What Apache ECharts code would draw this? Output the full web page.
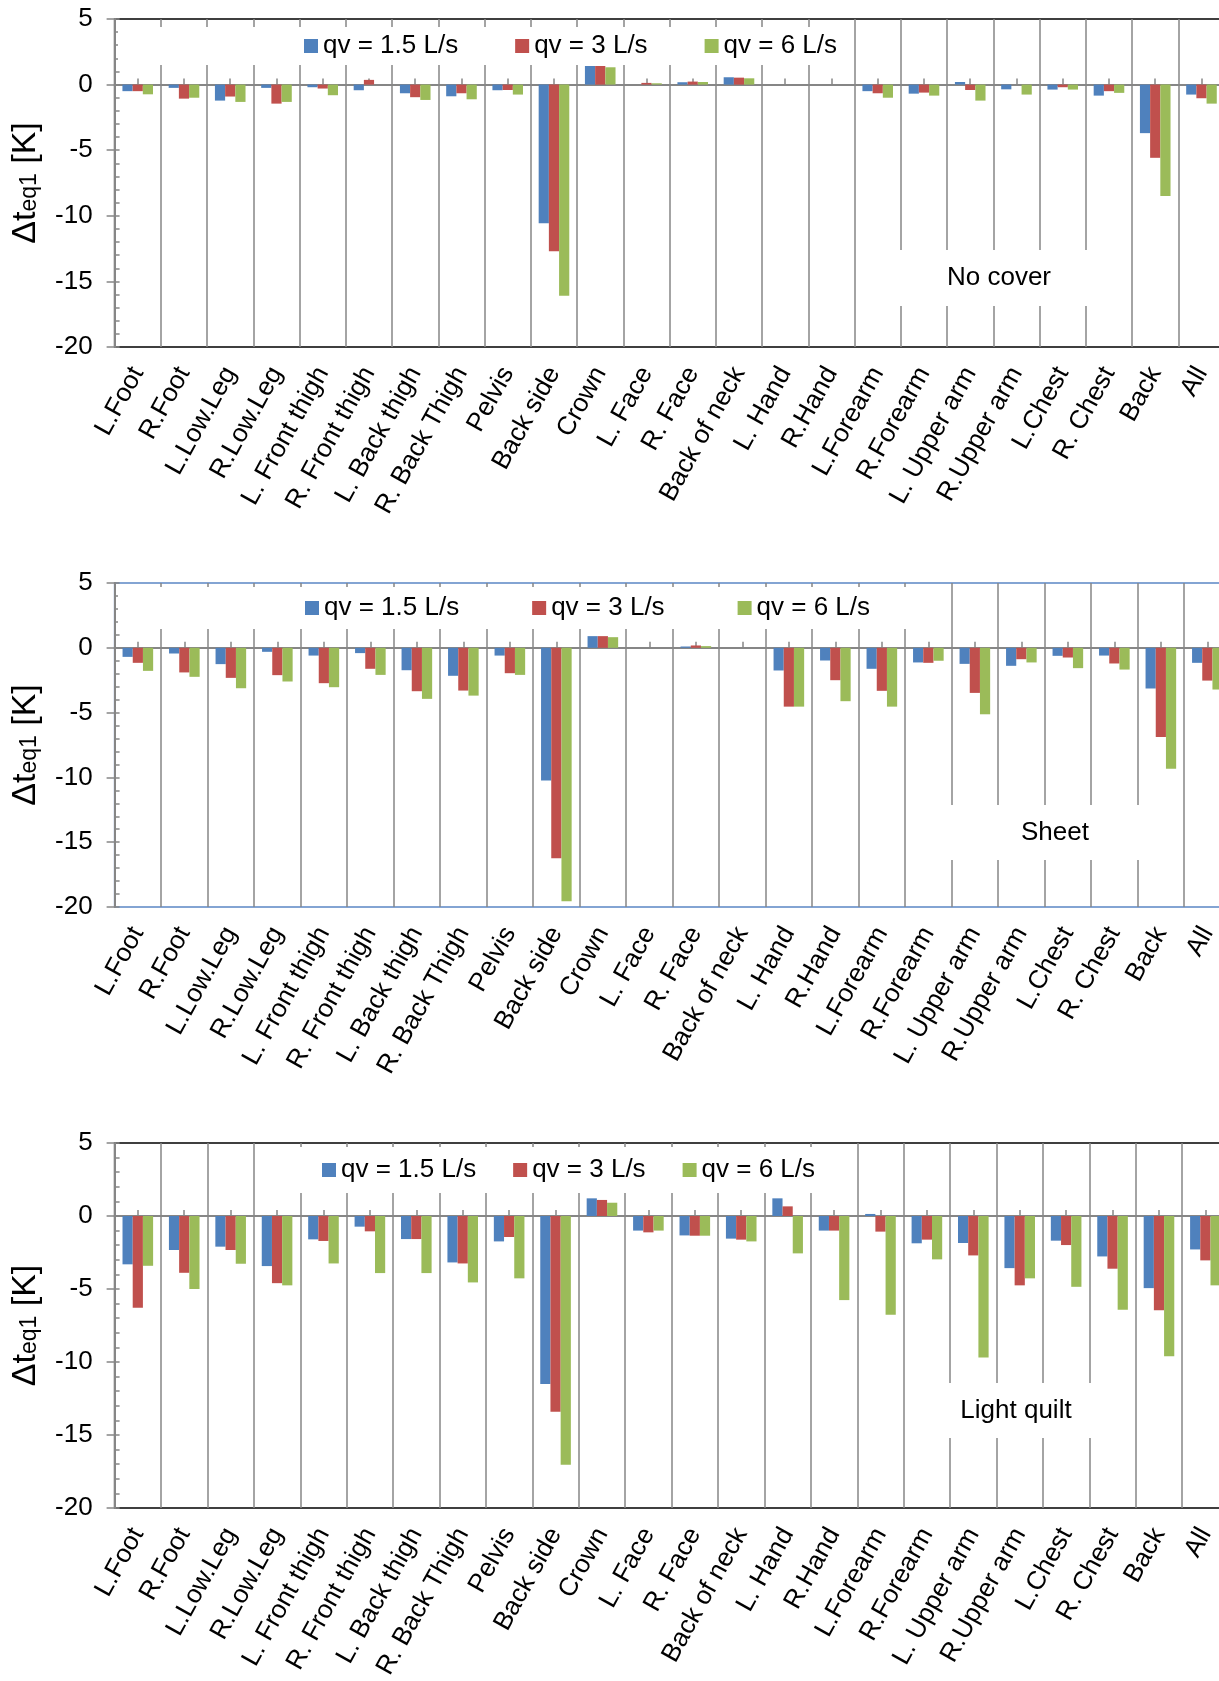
<!DOCTYPE html>
<html>
<head>
<meta charset="utf-8">
<title>Delta teq1</title>
<style>
body{margin:0;background:#fff;}
#main{width:1219px;height:1681px;}
</style>
</head>
<body>
<div id="main"></div>
<script src="https://cdn.jsdelivr.net/npm/echarts@6/dist/echarts.min.js"></script>
<script type="text/javascript">
// body segments
var cats = ['L.Foot','R.Foot','L.Low.Leg','R.Low.Leg','L. Front thigh','R. Front thigh','L. Back thigh','R. Back Thigh','Pelvis','Back side','Crown','L. Face','R. Face','Back of neck','L. Hand','R.Hand','L.Forearm','R.Forearm','L. Upper arm','R.Upper arm','L.Chest','R. Chest','Back','All'];
var seriesNames = ['qv = 1.5 L/s', 'qv = 3 L/s', 'qv = 6 L/s'];
var yTicks = [-20, -15, -10, -5, 0, 5];

// no cover
var noCover15 = [-0.5,-0.25,-1.22,-0.25,-0.2,-0.43,-0.66,-0.89,-0.43,-10.56,1.42,0,0.18,0.56,0,0,-0.5,-0.69,0.2,-0.36,-0.38,-0.84,-3.7,-0.76];
var noCover3  = [-0.5,-1.07,-0.91,-1.45,-0.3,0.36,-0.96,-0.66,-0.41,-12.7,1.42,0.13,0.23,0.53,0,0,-0.66,-0.61,-0.41,0,-0.2,-0.5,-5.58,-1.04];
var noCover6  = [-0.74,-1.0,-1.32,-1.32,-0.81,0,-1.17,-1.12,-0.76,-16.1,1.32,0.1,0.2,0.48,0,0,-1.0,-0.84,-1.22,-0.76,-0.38,-0.63,-8.5,-1.45];

// sheet
var sheet15 = [-0.7,-0.44,-1.26,-0.31,-0.6,-0.41,-1.73,-2.16,-0.6,-10.23,0.9,0,0.1,0,-1.75,-0.98,-1.62,-1.13,-1.24,-1.39,-0.62,-0.6,-3.14,-1.16];
var sheet3  = [-1.16,-1.9,-2.32,-2.11,-2.73,-1.62,-3.35,-3.3,-1.96,-16.24,0.9,0,0.18,0,-4.54,-2.5,-3.32,-1.16,-3.48,-0.88,-0.75,-1.21,-6.88,-2.53];
var sheet6  = [-1.78,-2.24,-3.12,-2.6,-3.04,-2.09,-3.94,-3.69,-2.09,-19.56,0.82,0,0.13,0,-4.54,-4.12,-4.54,-1.0,-5.13,-1.13,-1.57,-1.68,-9.33,-3.22];

// light quilt
var quilt15 = [-3.31,-2.33,-2.1,-3.43,-1.6,-0.73,-1.58,-3.18,-1.74,-11.5,1.21,-1.0,-1.33,-1.55,1.21,-1.0,0.14,-1.87,-1.85,-3.57,-1.69,-2.77,-4.94,-2.29];
var quilt3  = [-6.29,-3.89,-2.33,-4.6,-1.71,-1.05,-1.58,-3.25,-1.44,-13.4,1.1,-1.12,-1.35,-1.62,0.66,-1.0,-1.07,-1.62,-2.7,-4.75,-1.99,-3.61,-6.45,-3.04];
var quilt6  = [-3.41,-5.0,-3.27,-4.75,-3.25,-3.91,-3.91,-4.55,-4.27,-17.03,0.91,-1.0,-1.35,-1.74,-2.56,-5.76,-6.77,-2.97,-9.69,-4.27,-4.85,-6.42,-9.6,-4.75];

var panelLabels = ['No cover', 'Sheet', 'Light quilt'];
var panelData = [[noCover15, noCover3, noCover6], [sheet15, sheet3, sheet6], [quilt15, quilt3, quilt6]];

var colors = ['#4F81BD', '#C0504D', '#9BBB59'];
var font = "'Liberation Sans', Arial, sans-serif";
var grey = '#868686';

// layout of the three panels
var gridTop = [19, 583, 1143];
var gridH = [328, 324, 365];
var gridW = [1110, 1116, 1114];
var borderColor = ['#000', '#5B86C5', '#000'];
var legendBox = [
    {left: 118, top: 27, padding: [6, 12, 6, 186], gap: 57},
    {left: 118, top: 587, padding: [8, 38, 8, 187], gap: 73},
    {left: 280, top: 1147, padding: [10, 14, 10, 42], gap: 37}
];
var noteBox = [
    {x: 894, y: 250, w: 210, h: 56},
    {x: 945, y: 805, w: 220, h: 55},
    {x: 911, y: 1383, w: 210, h: 55}
];

var myChart = echarts.init(document.getElementById('main'));

var grids = [], xAxes = [], yAxes = [], legends = [], series = [], graphics = [];

for (var i = 0; i < 3; i++) {
    grids.push({
        left: 114.6, top: gridTop[i], width: gridW[i], height: gridH[i],
        containLabel: false, outerBoundsMode: 'none',
        show: true, borderColor: borderColor[i], borderWidth: 1.5, backgroundColor: 'transparent'
    });
    // bottom axis: labels + category gridlines
    xAxes.push({
        gridIndex: i, type: 'category', data: cats, position: 'bottom',
        axisLine: {show: false, onZero: false},
        axisTick: {show: false},
        splitLine: {show: true, interval: 0, lineStyle: {color: grey, width: 1.5}},
        axisLabel: {interval: 0, rotate: 61, fontSize: 26, color: '#000', fontFamily: font, margin: 22}
    });
    // zero line with ticks at category centres
    xAxes.push({
        gridIndex: i, type: 'category', data: cats, position: 'bottom',
        axisLine: {show: true, onZero: true, lineStyle: {color: grey, width: 2}},
        axisTick: {show: true, inside: true, alignWithLabel: true, interval: 0, length: 6, lineStyle: {color: grey, width: 1.5}},
        axisLabel: {show: false},
        splitLine: {show: false}
    });
    yAxes.push({
        gridIndex: i, type: 'value', min: yTicks[0], max: yTicks[yTicks.length - 1], interval: 5,
        axisLine: {show: true, onZero: false, lineStyle: {color: grey, width: 2}},
        axisTick: {show: true, length: 8, lineStyle: {color: grey, width: 1.5}},
        axisLabel: {fontSize: 26, color: '#000', fontFamily: font, margin: 22},
        splitLine: {show: false},
        name: '{a|Δt}{b|eq1}{a| [K]}',
        nameLocation: 'middle', nameRotate: 90, nameGap: 70,
        nameTextStyle: {
            color: '#000', fontFamily: font, fontSize: 34,
            rich: {
                a: {fontSize: 34, fontFamily: font, color: '#000', lineHeight: 38},
                b: {fontSize: 23, fontFamily: font, color: '#000', lineHeight: 26, padding: [9, 0, 0, 0]}
            }
        }
    });
    // minor ticks, inside
    yAxes.push({
        gridIndex: i, type: 'value', min: -20, max: 5, interval: 1, position: 'left',
        axisLine: {show: false, onZero: false},
        axisTick: {show: true, inside: true, length: 5, lineStyle: {color: grey, width: 1.5}},
        axisLabel: {show: false},
        splitLine: {show: false}
    });
    legends.push({
        left: legendBox[i].left, top: legendBox[i].top,
        padding: legendBox[i].padding, itemGap: legendBox[i].gap,
        backgroundColor: '#fff', icon: 'rect', itemWidth: 14, itemHeight: 14,
        textStyle: {fontSize: 26, color: '#000', fontFamily: font},
        data: seriesNames
    });
    for (var s = 0; s < 3; s++) {
        series.push({
            name: seriesNames[s], type: 'bar',
            xAxisIndex: i * 2, yAxisIndex: i * 2,
            data: panelData[i][s],
            barWidth: 10.2, barGap: '0%',
            itemStyle: {color: colors[s]},
            silent: true
        });
    }
    // white label box
    graphics.push({
        type: 'rect', z: 100,
        shape: {x: noteBox[i].x, y: noteBox[i].y, width: noteBox[i].w, height: noteBox[i].h},
        style: {fill: '#fff'}
    });
    graphics.push({
        type: 'text', z: 101,
        x: noteBox[i].x + noteBox[i].w / 2, y: noteBox[i].y + noteBox[i].h / 2,
        style: {
            text: panelLabels[i], fontSize: 26, fontFamily: font, fill: '#000',
            textAlign: 'center', textVerticalAlign: 'middle', align: 'center', verticalAlign: 'middle'
        }
    });
}

option = {
    animation: false,
    color: colors,
    grid: grids,
    xAxis: xAxes,
    yAxis: yAxes,
    legend: legends,
    series: series,
    graphic: graphics
};

myChart.setOption(option);
</script>
</body>
</html>
